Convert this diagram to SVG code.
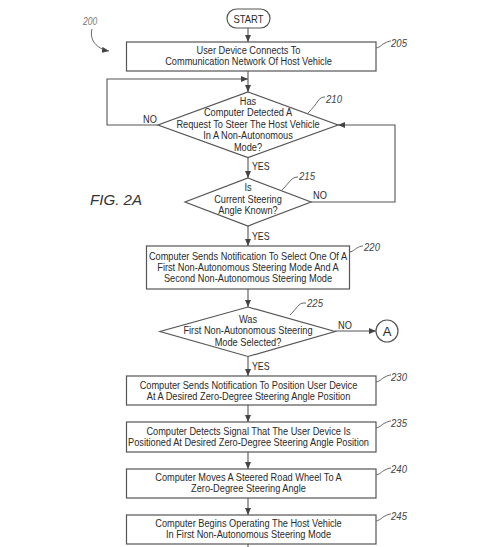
<svg xmlns="http://www.w3.org/2000/svg" width="491" height="547" viewBox="0 0 491 547">
<style>
.bg{fill:#fff}
.shape{fill:#fff;stroke:#555;stroke-width:1.2}
.line{fill:none;stroke:#555;stroke-width:1.1}
.lead{fill:none;stroke:#666;stroke-width:1}
.t{font-family:"Liberation Sans",Arial,sans-serif;font-size:11px;fill:#2a2a2a;text-anchor:middle}
.lab{font-family:"Liberation Sans",Arial,sans-serif;font-size:11px;font-style:italic;fill:#444}
.yn{font-family:"Liberation Sans",Arial,sans-serif;font-size:11px;fill:#2a2a2a}
</style>
<defs>
<marker id="arr" markerUnits="userSpaceOnUse" markerWidth="7" markerHeight="6" refX="7" refY="3" orient="auto">
<path d="M0,0 L7,3 L0,6 z" fill="#444"/>
</marker>
</defs>
<rect class="bg" x="0" y="0" width="491" height="547"/>

<g id="fig-label">
<text class="lab" x="0" y="0" transform="translate(83 25) scale(0.85 1)" style="font-size:10px;fill:#777">200</text>
<path class="lead" d="M92,29 C89,40 97,49 109,51" marker-end="url(#arr)"/>
<text class="lab" x="90" y="204.5" style="font-size:15.5px;fill:#333" textLength="52" lengthAdjust="spacingAndGlyphs">FIG. 2A</text>
</g>

<g id="connectors">
<path class="line" d="M248,28 V42" marker-end="url(#arr)"/>
<path class="line" d="M248,71 V92" marker-end="url(#arr)"/>
<path class="line" d="M158,125 H107 V79 H248" marker-end="url(#arr)"/>
<path class="line" d="M248,157.5 V178" marker-end="url(#arr)"/>
<path class="line" d="M311,202 H395 V125 H338" marker-end="url(#arr)"/>
<path class="line" d="M248,226 V246" marker-end="url(#arr)"/>
<path class="line" d="M248,289 V307" marker-end="url(#arr)"/>
<path class="line" d="M335,331 H376" marker-end="url(#arr)"/>
<path class="line" d="M248,356.5 V376" marker-end="url(#arr)"/>
<path class="line" d="M248,405 V422" marker-end="url(#arr)"/>
<path class="line" d="M248,452 V469" marker-end="url(#arr)"/>
<path class="line" d="M248,498 V515" marker-end="url(#arr)"/>
<path class="line" d="M248,544 V547"/>
<text class="yn" x="0" y="0" transform="translate(143 122.5) scale(0.84 1)">NO</text>
<text class="yn" x="0" y="0" transform="translate(252 169.5) scale(0.8 1)">YES</text>
<text class="yn" x="0" y="0" transform="translate(313 199) scale(0.84 1)">NO</text>
<text class="yn" x="0" y="0" transform="translate(252 239.5) scale(0.8 1)">YES</text>
<text class="yn" x="0" y="0" transform="translate(338 328.5) scale(0.84 1)">NO</text>
<text class="yn" x="0" y="0" transform="translate(252 369.5) scale(0.8 1)">YES</text>
</g>

<g id="start">
<rect class="shape" x="227" y="9" width="43" height="19" rx="9.5"/>
<text class="t" transform="translate(248.5 0) scale(0.86 1)"><tspan x="0" y="23">START</tspan></text>
</g>

<g id="n205">
<rect class="shape" x="126.5" y="42" width="249.5" height="29"/>
<text class="t" transform="translate(248.5 0) scale(0.84 1)"><tspan x="0" y="54.5">User Device Connects To</tspan><tspan x="0" y="65.5">Communication Network Of Host Vehicle</tspan></text>
<path class="lead" d="M376,48 C381,47 382,44 385,43 C387,42 389,41 391,41"/>
<text class="lab" x="0" y="0" transform="translate(391 46.5) scale(0.87 1)">205</text>
</g>

<g id="n210">
<polygon class="shape" points="248,92 338,125 248,157.5 158,125"/>
<text class="t" transform="translate(248 0) scale(0.84 1)"><tspan x="0" y="105">Has</tspan><tspan x="0" y="116.5">Computer Detected A</tspan><tspan x="0" y="128">Request To Steer The Host Vehicle</tspan><tspan x="0" y="139.5">In A Non-Autonomous</tspan><tspan x="0" y="151">Mode?</tspan></text>
<path class="lead" d="M308,113 C313,108 316,104 318,101 C320,98 322,97 325,97"/>
<text class="lab" x="0" y="0" transform="translate(326 103) scale(0.87 1)">210</text>
</g>

<g id="n215">
<polygon class="shape" points="248,178 311,202 248,226 185,202"/>
<text class="t" transform="translate(248 0) scale(0.84 1)"><tspan x="0" y="191">Is</tspan><tspan x="0" y="203">Current Steering</tspan><tspan x="0" y="214.5">Angle Known?</tspan></text>
<path class="lead" d="M282,190 C286,186 289,182 291,180 C293,178 295,177 298,177"/>
<text class="lab" x="0" y="0" transform="translate(299 180) scale(0.87 1)">215</text>
</g>

<g id="n220">
<rect class="shape" x="146.5" y="246" width="203" height="43"/>
<text class="t" transform="translate(248 0) scale(0.84 1)"><tspan x="0" y="260.5">Computer Sends Notification To Select One Of A</tspan><tspan x="0" y="271.5">First Non-Autonomous Steering Mode And A</tspan><tspan x="0" y="282.5">Second Non-Autonomous Steering Mode</tspan></text>
<path class="lead" d="M349.5,252 C354,251 355,249 357,248 C359,247 360,246 363,246"/>
<text class="lab" x="0" y="0" transform="translate(364 251) scale(0.87 1)">220</text>
</g>

<g id="n225">
<polygon class="shape" points="248,307 335,331.5 248,356.5 160,331.5"/>
<text class="t" transform="translate(248 0) scale(0.84 1)"><tspan x="0" y="323">Was</tspan><tspan x="0" y="334.5">First Non-Autonomous Steering</tspan><tspan x="0" y="346">Mode Selected?</tspan></text>
<path class="lead" d="M290,315 C294,311 297,307 299,305 C301,303 303,303 306,303"/>
<text class="lab" x="0" y="0" transform="translate(307 307) scale(0.87 1)">225</text>
</g>

<g id="connectorA">
<circle class="shape" cx="387" cy="331" r="11"/>
<text class="t" x="387" y="336" style="font-size:13px">A</text>
</g>

<g id="n230">
<rect class="shape" x="126.5" y="376" width="249.5" height="29"/>
<text class="t" transform="translate(248.5 0) scale(0.84 1)"><tspan x="0" y="389">Computer Sends Notification To Position User Device</tspan><tspan x="0" y="400">At A Desired Zero-Degree Steering Angle Position</tspan></text>
<path class="lead" d="M376,382 C381,381 382,378 385,377 C387,376 389,375 391,375"/>
<text class="lab" x="0" y="0" transform="translate(391 381) scale(0.87 1)">230</text>
</g>

<g id="n235">
<rect class="shape" x="126.5" y="422" width="249.5" height="30"/>
<text class="t" transform="translate(248.5 0) scale(0.84 1)"><tspan x="0" y="435.5">Computer Detects Signal That The User Device Is</tspan><tspan x="0" y="446.5">Positioned At Desired Zero-Degree Steering Angle Position</tspan></text>
<path class="lead" d="M376,428 C381,427 382,424 385,423 C387,422 389,421 391,421"/>
<text class="lab" x="0" y="0" transform="translate(391 427) scale(0.87 1)">235</text>
</g>

<g id="n240">
<rect class="shape" x="126.5" y="469" width="249.5" height="29"/>
<text class="t" transform="translate(248.5 0) scale(0.84 1)"><tspan x="0" y="481.5">Computer Moves A Steered Road Wheel To A</tspan><tspan x="0" y="492.5">Zero-Degree Steering Angle</tspan></text>
<path class="lead" d="M376,475 C381,474 382,471 385,470 C387,469 389,468 391,468"/>
<text class="lab" x="0" y="0" transform="translate(391 473) scale(0.87 1)">240</text>
</g>

<g id="n245">
<rect class="shape" x="126.5" y="515" width="249.5" height="29"/>
<text class="t" transform="translate(248.5 0) scale(0.84 1)"><tspan x="0" y="527.5">Computer Begins Operating The Host Vehicle</tspan><tspan x="0" y="538.5">In First Non-Autonomous Steering Mode</tspan></text>
<path class="lead" d="M376,521 C381,520 382,517 385,516 C387,515 389,514 391,514"/>
<text class="lab" x="0" y="0" transform="translate(391 520) scale(0.87 1)">245</text>
</g>
</svg>
